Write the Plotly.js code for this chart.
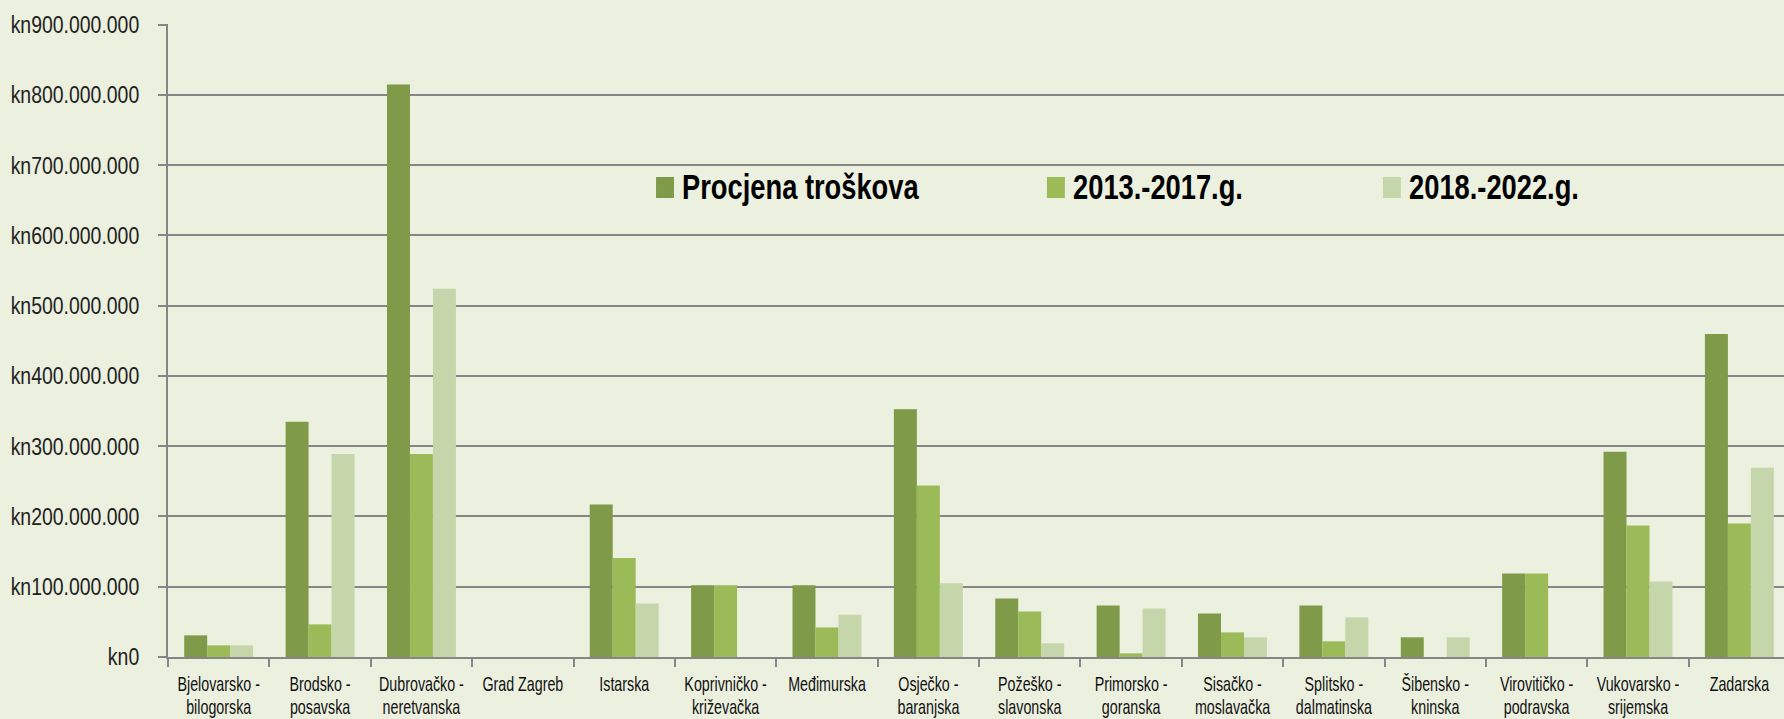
<!DOCTYPE html>
<html>
<head>
<meta charset="utf-8">
<script src="https://cdn.plot.ly/plotly-3.0.1.min.js"></script>
<style>
  html, body { margin: 0; padding: 0; background: #ECF0DF; }
  #chart { width: 1784px; height: 719px; }
</style>
</head>
<body>
<div id="chart"></div>
<script>
// ---- data ----
const categories = [
  "Bjelovarsko -<br>bilogorska",
  "Brodsko -<br>posavska",
  "Dubrovačko -<br>neretvanska",
  "Grad Zagreb",
  "Istarska",
  "Koprivničko -<br>križevačka",
  "Međimurska",
  "Osječko -<br>baranjska",
  "Požeško -<br>slavonska",
  "Primorsko -<br>goranska",
  "Sisačko -<br>moslavačka",
  "Splitsko -<br>dalmatinska",
  "Šibensko -<br>kninska",
  "Virovitičko -<br>podravska",
  "Vukovarsko -<br>srijemska",
  "Zadarska"
];

const seriesNames = ["Procjena troškova", "2013.-2017.g.", "2018.-2022.g."];

const procjenaTroskova = [30800000, 334800000, 815000000, 0, 217000000, 102000000, 102000000, 352600000, 83400000, 73400000, 62000000, 73400000, 28000000, 118900000, 292000000, 459800000];
const razdoblje2013 = [16600000, 46400000, 289000000, 0, 141000000, 102000000, 42000000, 244000000, 64900000, 5200000, 35000000, 22300000, 0, 118900000, 187000000, 190000000];
const razdoblje2018 = [16600000, 289000000, 524000000, 0, 76000000, 0, 60000000, 105000000, 19500000, 69200000, 28000000, 56400000, 28000000, 0, 107500000, 269500000];

const yTickVals = [0, 100000000, 200000000, 300000000, 400000000, 500000000, 600000000, 700000000, 800000000, 900000000];
const yTickText = ["kn0", "kn100.000.000", "kn200.000.000", "kn300.000.000", "kn400.000.000", "kn500.000.000", "kn600.000.000", "kn700.000.000", "kn800.000.000", "kn900.000.000"];

// ---- styles ----
const colors = ["#7F9A48", "#9BBB59", "#C6D6AB"];
const fontFam = '"Liberation Sans", Arial, sans-serif';
const gridColor = "#868686";

const allSeries = [procjenaTroskova, razdoblje2013, razdoblje2018];
const traces = allSeries.map((vals, i) => ({
  type: "bar",
  name: seriesNames[i],
  x: categories,
  y: vals,
  marker: { color: colors[i], line: { width: 0 } },
  hoverinfo: "x+y+name",
  showlegend: false
}));

// custom legend (tall markers like the reference)
const legendX = [0.3020, 0.5439, 0.7518];   // marker left edges, paper coords
const markerW = 0.0111;
const shapes = [];
const annotations = [];
seriesNames.forEach((name, i) => {
  shapes.push({
    type: "rect", xref: "paper", yref: "paper",
    x0: legendX[i], x1: legendX[i] + markerW,
    y0: 0.7251, y1: 0.7583,
    fillcolor: colors[i], line: { width: 0 }, layer: "above"
  });
  annotations.push({
    xref: "paper", yref: "paper",
    x: legendX[i] + markerW + 0.0040, y: 0.7425,
    xanchor: "left", yanchor: "middle",
    text: "<b>" + name + "</b>",
    showarrow: false,
    font: { family: fontFam, size: 35, color: "#000000" }
  });
});

const layout = {
  width: 1784,
  height: 719,
  margin: { l: 168, r: 0, t: 24, b: 62, pad: 0 },
  paper_bgcolor: "#ECF0DF",
  plot_bgcolor: "#ECF0DF",
  barmode: "group",
  bargap: 0.32,
  bargroupgap: 0,
  showlegend: false,
  font: { family: fontFam, color: "#1a1a1a" },
  xaxis: {
    type: "category",
    range: [-0.5, 15.44],
    showgrid: false,
    showline: true,
    linecolor: gridColor,
    linewidth: 2,
    ticks: "outside",
    tickson: "boundaries",
    ticklen: 8,
    tickwidth: 2,
    tickcolor: gridColor,
    tickangle: 0,
    tickfont: { family: fontFam, size: 21, color: "#111111" },
    ticklabelstandoff: 7,
    fixedrange: true
  },
  yaxis: {
    range: [0, 901000000],
    tickvals: yTickVals,
    ticktext: yTickText,
    showgrid: true,
    gridcolor: gridColor,
    gridwidth: 2,
    zeroline: false,
    showline: true,
    linecolor: gridColor,
    linewidth: 2,
    ticks: "outside",
    ticklen: 8,
    tickwidth: 2,
    tickcolor: gridColor,
    tickfont: { family: fontFam, size: 24, color: "#222222" },
    ticklabelstandoff: 14,
    fixedrange: true
  },
  shapes: shapes,
  annotations: annotations
};

// horizontal squeeze of text (the reference uses a very condensed face)
function squeeze(selector, s, anchor) {
  document.querySelectorAll(selector).forEach(el => {
    const bb = el.getBBox();
    const a = anchor === "right" ? bb.x + bb.width : anchor === "left" ? bb.x : bb.x + bb.width / 2;
    const t = el.getAttribute("transform") || "";
    el.setAttribute("transform", t + " translate(" + a + ",0) scale(" + s + ",1) translate(" + (-a) + ",0)");
  });
}

Plotly.newPlot("chart", traces, layout, { displayModeBar: false, staticPlot: true }).then(() => {
  // tighter line spacing for two-line category labels
  document.querySelectorAll(".xtick text tspan.line").forEach(ts => {
    const dy = ts.getAttribute("dy");
    if (dy && dy.indexOf("em") > 0) {
      const v = parseFloat(dy);
      ts.setAttribute("dy", (v * 1.08 / 1.3) + "em");
    }
  });
  squeeze(".ytick text", 0.81, "right");
  squeeze(".xtick text", 0.68, "center");
  squeeze(".annotation-text", 0.78, "left");
});
</script>
</body>
</html>
